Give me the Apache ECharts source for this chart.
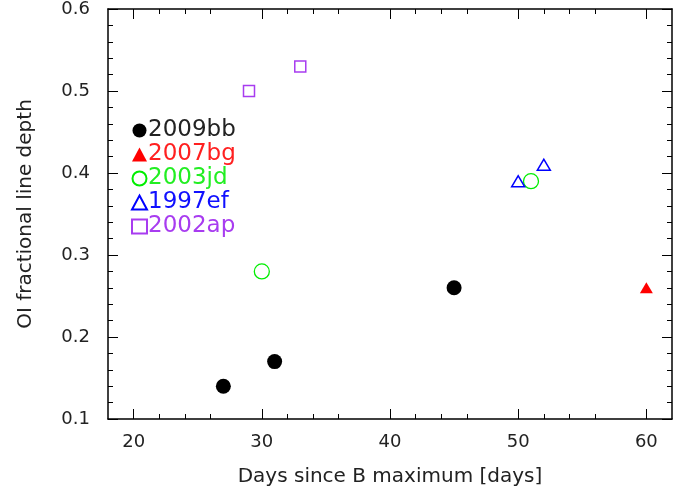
<!DOCTYPE html>
<html><head><meta charset="utf-8">
<script src="https://cdn.jsdelivr.net/npm/echarts@6/dist/echarts.min.js"></script>
<style>html,body{margin:0;padding:0;background:#fff;overflow:hidden}#c{width:683px;height:492px}</style>
</head><body><div id="c"></div>
<script>
const names = ['2009bb','2007bg','2003jd','1997ef','2002ap'];
const sn2009bb = [[27,0.14],[31,0.17],[45,0.26]];
const sn2007bg = [[60,0.26]];
const sn2003jd = [[30,0.28],[51,0.39]];
const sn1997ef = [[50,0.39],[52,0.41]];
const sn2002ap = [[29,0.50],[33,0.53]];
const xTicks = [20,30,40,50,60];
const colors = ['#000000','#ff0000','#00ee00','#0000ff','#a83cf0'];
const textColors = ['#222222','#ff2020','#22ee22','#1010ff','#a83cf0'];
const FONT = 'DejaVu Sans';

const chart = echarts.init(document.getElementById('c'), null, {width:683, height:492});
const tickStyle = {show:true, inside:true, length:10, lineStyle:{color:'#000', width:1}};
const minorStyle = {show:true, splitNumber:5, length:5, lineStyle:{color:'#000', width:1}};
function mk(pos, opts){
  return Object.assign({type:'value', position:pos,
    axisLine:{show:true, lineStyle:{color:'#000', width:1.5}},
    splitLine:{show:false},
    axisTick:JSON.parse(JSON.stringify(tickStyle)),
    minorTick:JSON.parse(JSON.stringify(minorStyle))}, opts);
}
const series = [
  {name:names[0], data:sn2009bb, symbol:'circle', symbolSize:15, itemStyle:{color:colors[0], opacity:1}},
  {name:names[1], data:sn2007bg, symbol:'triangle', symbolSize:[13,11], itemStyle:{color:colors[1], opacity:1}},
  {name:names[2], data:sn2003jd, symbol:'circle', symbolSize:15, itemStyle:{color:'#fff', borderColor:colors[2], borderWidth:1.3, opacity:1}},
  {name:names[3], data:sn1997ef, symbol:'triangle', symbolSize:[13,11], itemStyle:{color:'#fff', borderColor:colors[3], borderWidth:1.5, opacity:1}},
  {name:names[4], data:sn2002ap, symbol:'rect', symbolSize:11, itemStyle:{color:'#fff', borderColor:colors[4], borderWidth:1.5, opacity:1}},
].map(s=>Object.assign({type:'scatter', xAxisIndex:0, yAxisIndex:0, emphasis:{disabled:true}}, s));

chart.setOption({
  animation:false,
  backgroundColor:'#fff',
  grid:{left:108, width:564, top:8, height:412, show:false},
  legend:{
    orient:'vertical', left:126, top:114, itemGap:1, itemWidth:15, itemHeight:14,
    selectedMode:false,
    data: names.map((n,i)=>({name:n, textStyle:{color:textColors[i], fontSize:23, fontFamily:FONT, padding:[0,0,0,-4]}})),
  },
  xAxis:[
    mk('bottom',{min:18, max:62, interval:10,
      name:'Days since B maximum [days]', nameLocation:'middle', nameGap:48,
      nameTextStyle:{fontSize:20, fontFamily:FONT, color:'#222'},
      axisLabel:{fontSize:18, fontFamily:FONT, color:'#222', margin:14, customValues:xTicks},
      axisTick:Object.assign({}, tickStyle, {customValues:xTicks}),
    }),
    mk('top',{min:18, max:62, interval:10, axisLabel:{show:false},
      axisTick:Object.assign({}, tickStyle, {customValues:xTicks})})
  ],
  yAxis:[
    mk('left',{min:0.1, max:0.6, interval:0.1,
      name:'OI fractional line depth', nameLocation:'middle', nameGap:72,
      nameTextStyle:{fontSize:20, fontFamily:FONT, color:'#222'},
      axisLabel:{fontSize:18, fontFamily:FONT, color:'#222', margin:18, formatter:v=>v.toFixed(1)}}),
    mk('right',{min:0.1, max:0.6, interval:0.1, axisLabel:{show:false}})
  ],
  series: series
});
</script></body></html>
